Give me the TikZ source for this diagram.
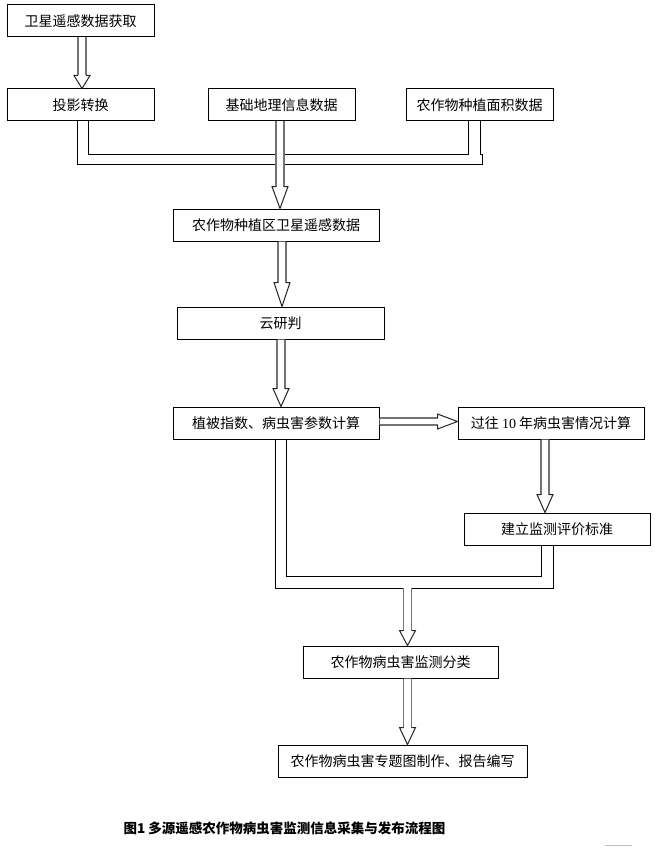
\documentclass[tikz,border=0pt]{standalone}
\usepackage{fontspec}
\newfontfamily\cjk{Noto Sans CJK SC}
\newfontfamily\latinserif{Liberation Serif}
\usetikzlibrary{calc}
\tikzset{
  box/.style={draw=black, line width=1pt, fill=white, inner sep=0pt, minimum height=32pt,
    font=\cjk\fontsize{14}{16}\selectfont},
  pipe/.style={draw=black, line width=1pt},
  shaftline/.style={draw=black!55, line width=1.7pt},
  headline/.style={draw=black!85, line width=1pt, line join=miter},
}
% vertical hollow arrow: #1 x (px), #2 start anchor, #3 tip anchor, #4 head length
\newcommand\vhollow[4]{%
  \path[fill=white] let \p1=(#2), \p2=(#3) in
    (#1pt-4pt,\y1) -- (#1pt-4pt,\y2+#4pt) -- (#1pt-8pt,\y2+#4pt) -- (#1pt,\y2)
    -- (#1pt+8pt,\y2+#4pt) -- (#1pt+4pt,\y2+#4pt) -- (#1pt+4pt,\y1) -- cycle;
  \draw[shaftline] let \p1=(#2), \p2=(#3) in
    (#1pt-4pt,\y1) -- (#1pt-4pt,\y2+#4pt) (#1pt+4pt,\y1) -- (#1pt+4pt,\y2+#4pt);
  \draw[headline] let \p1=(#2), \p2=(#3) in
    (#1pt-4pt,\y2+#4pt) -- (#1pt-8pt,\y2+#4pt) -- (#1pt,\y2) -- (#1pt+8pt,\y2+#4pt) -- (#1pt+4pt,\y2+#4pt);
}
% horizontal hollow arrow: #1 y (px), #2 start anchor, #3 tip anchor, #4 head length
\newcommand\hhollow[4]{%
  \path[fill=white] let \p1=(#2), \p2=(#3) in
    (\x1,-#1pt+3.5pt) -- (\x2-#4pt,-#1pt+3.5pt) -- (\x2-#4pt,-#1pt+7.5pt) -- (\x2,-#1pt)
    -- (\x2-#4pt,-#1pt-7.5pt) -- (\x2-#4pt,-#1pt-3.5pt) -- (\x1,-#1pt-3.5pt) -- cycle;
  \draw[shaftline] let \p1=(#2), \p2=(#3) in
    (\x1,-#1pt+3.5pt) -- (\x2-#4pt,-#1pt+3.5pt) (\x1,-#1pt-3.5pt) -- (\x2-#4pt,-#1pt-3.5pt);
  \draw[headline] let \p1=(#2), \p2=(#3) in
    (\x2-#4pt,-#1pt+3.5pt) -- (\x2-#4pt,-#1pt+7.5pt) -- (\x2,-#1pt) -- (\x2-#4pt,-#1pt-7.5pt) -- (\x2-#4pt,-#1pt-3.5pt);
}
\begin{document}
\begin{tikzpicture}[x=1pt,y=-1pt]
\useasboundingbox[fill=white] (0,0) rectangle (655,848);

\node[box, minimum width=147pt] (b1) at (80.5,21) {卫星遥感数据获取};
\node[box, minimum width=147pt] (b2) at (80.5,105) {投影转换};
\node[box, minimum width=147pt] (b3) at (281.5,105) {基础地理信息数据};
\node[box, minimum width=147pt] (b4) at (479.5,105) {农作物种植面积数据};
\node[box, minimum width=206pt] (b5) at (276,225) {农作物种植区卫星遥感数据};
\node[box, minimum width=207pt] (b6) at (280.5,323) {云研判};
\node[box, minimum width=206pt] (b7) at (276,423) {植被指数、病虫害参数计算};
\node[box, minimum width=186pt] (b8) at (551,423) {过往 {\latinserif 10} 年病虫害情况计算};
\node[box, minimum width=186pt] (b9) at (557,529) {建立监测评价标准};
\node[box, minimum width=195pt] (b10) at (400.5,662) {农作物病虫害监测分类};
\node[box, minimum width=249pt] (b11) at (402.5,761) {农作物病虫害专题图制作、报告编写};

% top collector
\draw[pipe] (b2.south -| 77,0) -- (77,164) -- (482,164) -- (482,154) -- (480,154) -- (b4.south -| 480,0);
\draw[pipe] (b2.south -| 88,0) -- (88,154) -- (468,154) -- (b4.south -| 468,0);
% bottom collector
\draw[pipe] (b7.south -| 275,0) -- (275,588) -- (553,588) -- (b9.south -| 553,0);
\draw[pipe] (b7.south -| 286,0) -- (286,576) -- (541,576) -- (b9.south -| 541,0);
\coordinate (busB) at (407.5,588);

% hollow arrows
\vhollow{82}{b1.south}{b2.north}{13}
\vhollow{280}{b3.south}{b5.north}{22}
\vhollow{282}{b5.south}{b6.north}{24}
\vhollow{281}{b6.south}{b7.north}{18}
\hhollow{421.5}{b7.east}{b8.west}{20}
\vhollow{545}{b8.south}{b9.north}{18}
\vhollow{407.5}{busB}{b10.north}{15}
\vhollow{407.5}{b10.south}{b11.north}{17}

\node[font=\cjk\bfseries\fontsize{13.5}{15}\selectfont, inner sep=0pt] (cap) at (284.5,828)
  {图1 多源遥感农作物病虫害监测信息采集与发布流程图};
\draw[black!25, line width=0.8pt] (605,845) -- (632,845);
\end{tikzpicture}
\end{document}
